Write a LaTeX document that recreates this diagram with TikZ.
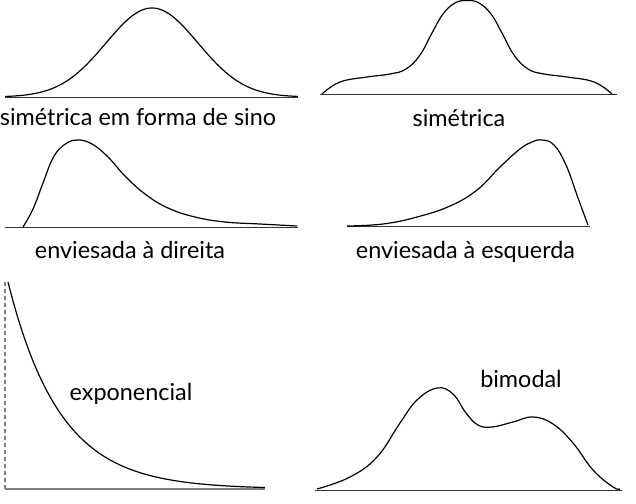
\documentclass[tikz,border=0pt]{standalone}
\usepackage{fontspec}
\setmainfont{Lato}
\usetikzlibrary{positioning}
\tikzset {
    curve line/.style={
        draw=black,
        line width=1.2pt,
        line join=round,
    },
    base line/.style={
        draw=black!80,
        line width=1pt,
    },
    axis line/.style={
        draw=black!50,
        line width=1.2pt,
    },
    label text/.style={
        draw=none,
        anchor=base,
        inner sep=0pt,
        font=\fontsize{23.4}{28}\selectfont,
    },
}
\begin{document}
\begin{tikzpicture}
[x=1pt, y=-1pt]
\useasboundingbox (0,0) rectangle (636,503);

% simetrica em forma de sino
\draw[base line] (5,97) -- (298,97);
\draw[curve line] plot[domain=5:298, samples=120] (\x, {97-89*exp(-((\x-152)/65.08)^2)});
\node[label text] at (138,125) (lblSino) {simétrica em forma de sino};

% simetrica
\draw[base line] (320,94) -- (617,94);
\draw[curve line] plot[smooth, tension=0.7] coordinates {
(322,94) (340,82) (367,77) (390,74) (406,69) (420,55) (432,33) (443,14) (455,3) (467,0.5)
(479,3) (491,14) (502,33) (514,55) (528,69) (544,74) (567,77) (594,82) (612,94)};
\node[label text] at (459,126) (lblSim) {simétrica};

% enviesada a direita
\draw[base line] (5,227) -- (298,227);
\draw[curve line] plot[smooth, tension=0.7] coordinates {
(23,227) (33,209) (43,183) (53,158) (64,145) (77,140) (92,144) (108,157)
(125,176) (145,194) (168,208) (195,217) (225,222) (260,224) (297,226)};
\node[label text] at (130,258) (lblDir) {enviesada à direita};

% enviesada a esquerda
\draw[base line] (347,226) -- (590,226);
\draw[curve line] plot[smooth, tension=0.7] coordinates {
(347,226) (383,224) (417,217) (450,206) (477,190) (500,167) (520,149)
(532,142) (542,140) (554,145) (566,165) (578,198) (588,225)};
\node[label text] at (465.5,258) (lblEsq) {enviesada à esquerda};

% exponencial
\draw[axis line, dash pattern=on 4pt off 3pt] (5,489) -- (5,282);
\draw[axis line] (5,489) -- (265,489);
\draw[curve line] plot[domain=8:265, samples=120] (\x, {489-207*exp(-(\x-8)/52)});
\node[label text] at (131,400) (lblExp) {exponencial};

% bimodal
\draw[base line] (315,490) -- (622,490);
\draw[curve line] plot[smooth, tension=0.7] coordinates {
(317,489) (350,477) (377,457) (400,423) (417,400) (437,388) (453,394)
(466,413) (478,425) (492,427) (513,422) (533,417) (553,424) (573,443)
(593,470) (613,487) (620,489)};
\node[label text] at (521,387) (lblBim) {bimodal};
\end{tikzpicture}
\end{document}
